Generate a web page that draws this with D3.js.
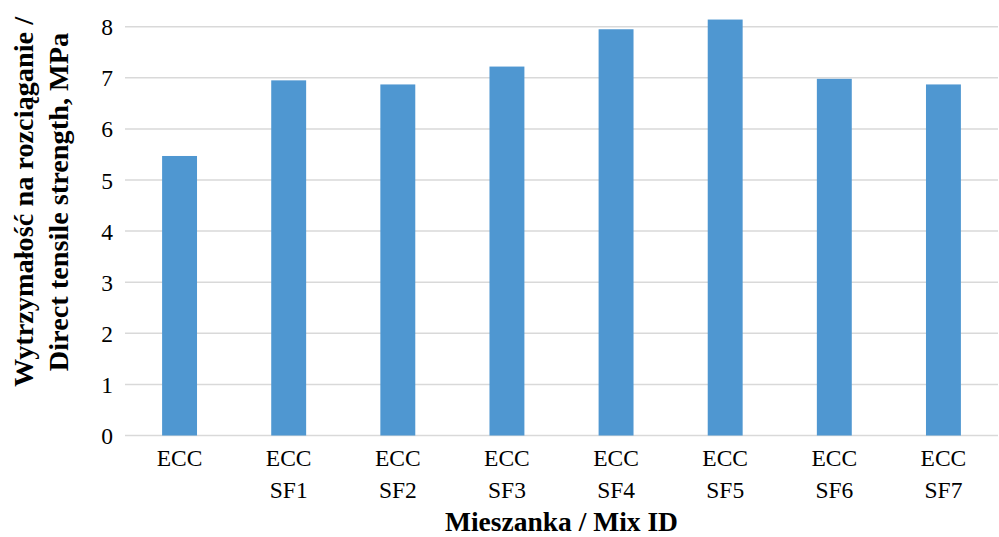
<!DOCTYPE html>
<html>
<head>
<meta charset="utf-8">
<script src="https://cdn.jsdelivr.net/npm/d3@7"></script>
<style>
  html, body { margin: 0; padding: 0; background: #fff; }
  svg { display: block; }
</style>
</head>
<body>
<svg id="chart" width="999" height="537"></svg>
<script>
const categories = ["ECC", "ECC SF1", "ECC SF2", "ECC SF3", "ECC SF4", "ECC SF5", "ECC SF6", "ECC SF7"];
const values = [5.47, 6.95, 6.87, 7.22, 7.95, 8.14, 6.98, 6.87];
const yTicks = [0, 1, 2, 3, 4, 5, 6, 7, 8];
const yTitleLines = ["Wytrzymałość na rozciąganie /", "Direct tensile strength, MPa"];
const xTitle = "Mieszanka / Mix ID";

const svg = d3.select("#chart");
const W = 999, H = 537;
const m = { left: 125, right: 1, top: 26.7, bottom: H - 435.5 };
const FONT = '"Liberation Serif", "Times New Roman", Times, serif';

const x = d3.scaleBand()
  .domain(categories)
  .range([m.left, W - m.right])
  .paddingInner(0.68)
  .paddingOuter(0.34);

const y = d3.scaleLinear().domain([0, 8]).range([H - m.bottom, m.top]);

// gridlines
svg.append("g")
  .selectAll("line")
  .data(yTicks)
  .join("line")
  .attr("x1", m.left)
  .attr("x2", W - m.right)
  .attr("y1", d => y(d))
  .attr("y2", d => y(d))
  .attr("stroke", "#d9d9d9")
  .attr("stroke-width", 1.5);

// bars
svg.append("g")
  .selectAll("rect")
  .data(values)
  .join("rect")
  .attr("x", (d, i) => x(categories[i]))
  .attr("y", d => y(d))
  .attr("width", x.bandwidth())
  .attr("height", d => y(0) - y(d))
  .attr("fill", "#4f97d1");

// y axis
const yAxis = d3.axisLeft(y).tickValues(yTicks).tickSize(0).tickPadding(0).tickFormat(d3.format("d"));
const gy = svg.append("g").attr("transform", `translate(${m.left - 12},0)`).call(yAxis)
  .attr("font-family", FONT).attr("font-size", 23.5);
gy.select(".domain").remove();
gy.selectAll("text")
  .attr("fill", "#000")
  .attr("dy", "0.34em");

// x axis
const xAxis = d3.axisBottom(x).tickSize(0).tickFormat("");
const gx = svg.append("g").attr("transform", `translate(0,${y(0)})`).call(xAxis)
  .attr("font-family", FONT).attr("font-size", 23.5);
gx.select(".domain").remove();
gx.selectAll(".tick").each(function(d) {
  const parts = d.split(" ");
  const t = d3.select(this).append("text")
    .attr("text-anchor", "middle")
    .attr("fill", "#000");
  parts.forEach((p, i) => {
    t.append("tspan").attr("x", 0).attr("y", 30.5 + i * 31.5).text(p);
  });
});

// y title
const yt = svg.append("text")
  .attr("transform", `translate(0,202) rotate(-90)`)
  .attr("text-anchor", "middle")
  .attr("font-family", FONT)
  .attr("font-weight", "bold")
  .attr("font-size", 28.3);
yTitleLines.forEach((l, i) => {
  yt.append("tspan").attr("x", 0).attr("y", 33 + i * 35).text(l);
});

// x title
svg.append("text")
  .attr("x", (m.left + W - m.right) / 2)
  .attr("y", 531)
  .attr("text-anchor", "middle")
  .attr("font-family", FONT)
  .attr("font-weight", "bold")
  .attr("font-size", 27.5)
  .text(xTitle);
</script>
</body>
</html>
